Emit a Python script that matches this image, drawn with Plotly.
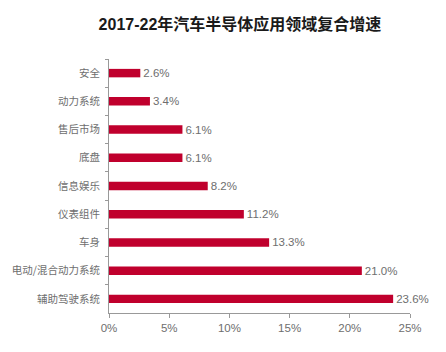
import plotly.graph_objects as go

categories = ["安全", "动力系统", "售后市场", "底盘", "信息娱乐", "仪表组件", "车身", "电动/混合动力系统", "辅助驾驶系统"]
values = [2.6, 3.4, 6.1, 6.1, 8.2, 11.2, 13.3, 21.0, 23.6]
tick_vals = [0, 5, 10, 15, 20, 25]
tick_text = ["0%", "5%", "10%", "15%", "20%", "25%"]
title = "2017-22年汽车半导体应用领域复合增速"

bar_color = "#C0002D"
gray = "#6e6e6e"

fig = go.Figure(go.Bar(
    x=values, y=categories, orientation="h",
    marker=dict(color=bar_color, line=dict(width=0)),
    width=0.3,
    text=[f"{v:.1f}%" for v in values],
    textposition="outside",
    constraintext="none",
    textfont=dict(family="Liberation Sans, Arial", size=11.5, color=gray),
    cliponaxis=False,
))

fig.update_layout(
    width=446, height=352,
    margin=dict(l=107, r=36, t=59, b=39),
    paper_bgcolor="white", plot_bgcolor="white",
    showlegend=False,
    title=dict(text=f"<b>{title}</b>", x=0.538, xanchor="center", y=0.932, yanchor="middle",
               font=dict(family="Liberation Sans, Noto Sans CJK SC", size=16, color="#1a1a1a")),
    xaxis=dict(range=[0, 25], tickvals=tick_vals, ticktext=tick_text,
               showgrid=False, zeroline=False, showline=True, linecolor="#999999", linewidth=1,
               ticks="outside", ticklen=4, tickcolor="#999999",
               tickfont=dict(family="Liberation Sans, Arial", size=11.5, color=gray)),
    yaxis=dict(autorange="reversed", showgrid=False, showline=True, linecolor="#999999", linewidth=1,
               ticks="outside", ticklen=3, tickcolor="#999999", tickson="boundaries",
               ticklabelstandoff=6,
               tickfont=dict(family="Noto Sans CJK SC", size=10.5, color=gray)),
    shapes=[
        dict(type="line", xref="x", yref="paper", x0=25 + 27/12.12, x1=25 + 36/12.12,
             y0=1 + (59-5)/254, y1=1 + (59-5)/254, line=dict(color="#C0002D", width=1)),
        dict(type="line", xref="x", yref="paper", x0=25 + 28/12.12, x1=25 + 36/12.12,
             y0=-(341-313)/254, y1=-(341-313)/254, line=dict(color="#C0002D", width=1)),
    ],
)

fig.write_html("out.html")
